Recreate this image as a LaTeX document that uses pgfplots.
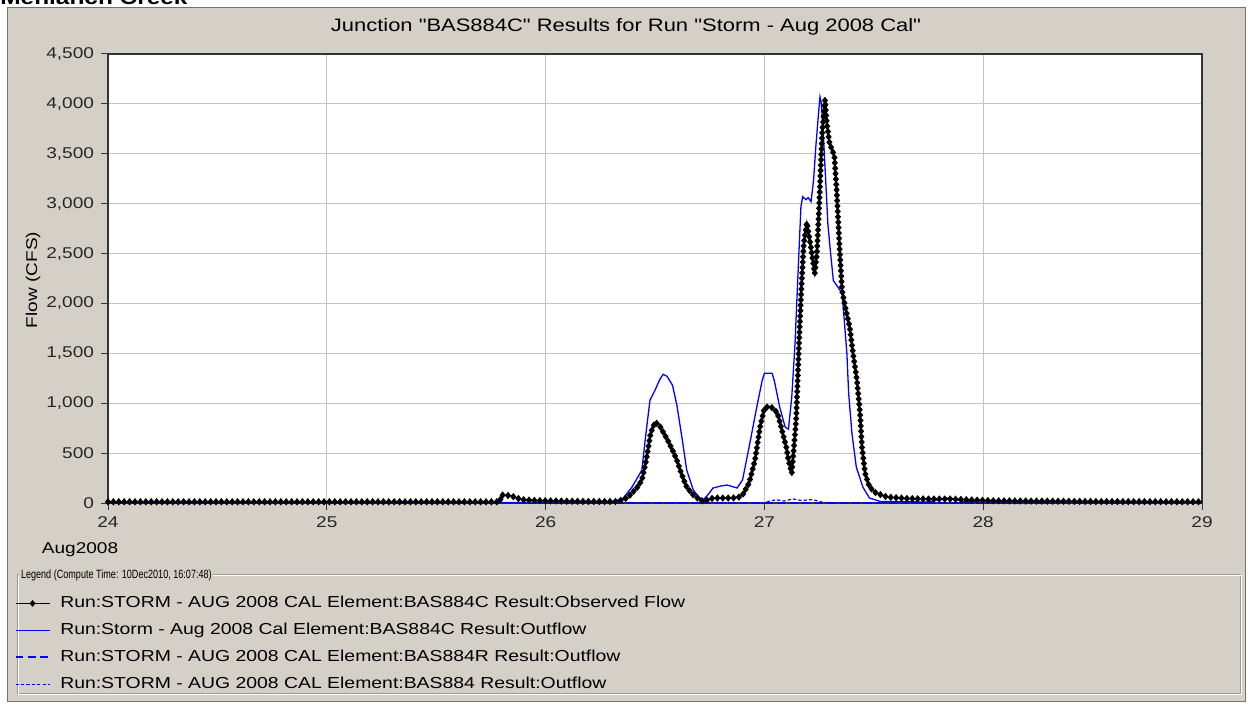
\documentclass[border=0pt]{standalone}
\usepackage{fontspec}
\setmainfont{Liberation Sans}[Ligatures=TeXOff, FakeStretch=1.22]
\usepackage{graphicx}
\usepackage{pgfplots}
\pgfplotsset{compat=1.18}
\usetikzlibrary{decorations.markings}
\definecolor{panel}{HTML}{D4D0C8}
\definecolor{gridc}{HTML}{C4C4C4}
\definecolor{hmsblue}{HTML}{0000FF}
\newcommand{\uifont}{\fontsize{7.8}{9.5}\selectfont}

\begin{document}
\begin{tikzpicture}
\useasboundingbox (0,0) rectangle (624pt,-355pt);
\fill[white] (0,0) rectangle (624pt,-355pt);
\fill[panel] (3.5pt,-3.5pt) rectangle (623pt,-351pt);
\draw[black!55, line width=0.6pt] (3.8pt,-3.8pt) rectangle (622.7pt,-350.7pt);
\begin{scope}
  \clip (0,0) rectangle (624pt,-355pt);
  \node[anchor=base west, inner sep=0pt, font=\fontsize{10}{12}\bfseries\selectfont] at (0pt,-2.5pt) {Mehlanch Creek};
\end{scope}

% legend group box
\draw[black!40, line width=0.5pt] (8.5pt,-287.5pt) rectangle (620pt,-347pt);
\draw[white, line width=0.5pt] (9pt,-288pt) rectangle (620.5pt,-347.5pt);
\node[anchor=west, fill=panel, inner xsep=0.8pt, inner ysep=1pt] at (9.5pt,-287.5pt)
  {\scalebox{0.62}[1]{\fontsize{6}{7}\selectfont Legend (Compute Time: 10Dec2010, 16:07:48)}};

\node[font=\fontsize{9}{11}\selectfont] at (313pt,-13.5pt) {Junction "BAS884C" Results for Run "Storm - Aug 2008 Cal"};
\node[font=\uifont, rotate=90] at (16.5pt,-140pt) {Flow (CFS)};
\node[font=\uifont] at (40pt,-275pt) {Aug2008};

\begin{axis}[
  at={(54pt,-251.5pt)}, anchor=south west,
  scale only axis, width=547pt, height=224.5pt,
  xmin=24, xmax=29, ymin=0, ymax=4500,
  xtick={24,25,26,27,28,29}, ytick={0,500,...,4500},
  xtick pos=bottom, ytick pos=left,
  scaled y ticks=false,
  grid=major, grid style={gridc, line width=0.6pt},
  axis line style={black!80, line width=0.6pt},
  tick align=outside, major tick length=3.5pt,
  tick style={black!80, line width=0.5pt},
  ticklabel style={font=\uifont, text=black!85},
  /pgf/number format/assume math mode=true,
  yticklabel style={/pgf/number format/1000 sep={,}},
  axis background/.style={fill=white},
  clip=false,
  legend style={at={(-0.0855,-0.206)}, anchor=north west, draw=none, fill=none,
    font=\fontsize{7.95}{9.5}\selectfont, inner sep=0pt, cells={anchor=west},
    nodes={inner sep=0pt, text height=6pt, text depth=1.5pt},
    /tikz/row sep=6pt, /tikz/column sep=5pt},
]
\addlegendimage{legend image code/.code={\draw[black, line width=0.6pt] (0pt,0pt)--(17pt,0pt);
    \fill[black] (8.5pt,1.4pt)--(9.65pt,0pt)--(8.5pt,-1.4pt)--(7.35pt,0pt)--cycle;}}
\addlegendentry{Run:STORM - AUG 2008 CAL Element:BAS884C Result:Observed Flow}
\addlegendimage{legend image code/.code={\draw[hmsblue, line width=0.65pt] (0pt,0pt)--(17pt,0pt);}}
\addlegendentry{Run:Storm - Aug 2008 Cal Element:BAS884C Result:Outflow}
\addlegendimage{legend image code/.code={\draw[draw=hmsblue, line width=0.7pt, dash pattern=on 3.8pt off 2.4pt] (0pt,0.1pt)--(17pt,0.1pt);}}
\addlegendentry{Run:STORM - AUG 2008 CAL Element:BAS884R Result:Outflow}
\addlegendimage{legend image code/.code={\draw[hmsblue, line width=0.6pt, dash pattern=on 1.6pt off 1.1pt] (0pt,0pt)--(17pt,0pt);}}
\addlegendentry{Run:STORM - AUG 2008 CAL Element:BAS884 Result:Outflow}

% BAS884 outflow
\addplot[forget plot, hmsblue, line width=0.6pt, dash pattern=on 1.6pt off 1.1pt] table {
x y
24.00 0
27.00 0
27.03 25
27.06 30
27.09 20
27.13 40
27.17 25
27.22 35
27.26 10
27.30 0
29.00 0
};
% BAS884R outflow
\addplot[forget plot, draw=hmsblue, line width=0.7pt, dash pattern=on 3.8pt off 2.4pt] table {
x y
24.00 0
29.00 0
};
% BAS884C outflow (computed)
\addplot[forget plot, hmsblue, line width=0.65pt] table {
x y
24.00 5
26.30 5
26.355 50
26.395 160
26.44 330
26.455 630
26.477 1030
26.50 1130
26.52 1230
26.537 1290
26.555 1270
26.58 1180
26.60 980
26.625 630
26.645 330
26.675 130
26.70 60
26.72 30
26.745 90
26.765 150
26.80 170
26.83 180
26.875 150
26.90 230
26.93 560
26.965 960
26.99 1230
27.00 1300
27.035 1300
27.045 1230
27.07 960
27.095 760
27.11 740
27.125 1060
27.14 1600
27.155 2370
27.167 2970
27.175 3070
27.19 3040
27.20 3060
27.213 3020
27.225 3240
27.235 3570
27.245 3840
27.254 4070
27.26 4010
27.268 3740
27.28 3240
27.29 2800
27.30 2560
27.315 2230
27.34 2150
27.355 2100
27.365 1830
27.377 1500
27.385 1100
27.40 700
27.42 360
27.45 160
27.48 50
27.53 15
27.75 10
27.79 30
27.83 50
27.87 40
27.91 15
28.00 10
29.00 12
};
% observed flow
\addplot[forget plot, black, line width=0.6pt, postaction={decorate},
  decoration={markings, mark=between positions 0 and 1 step 2.7pt with {%
    \pgftransformresetnontranslations
    \fill[black] (0pt,1.4pt)--(1.15pt,0pt)--(0pt,-1.4pt)--(-1.15pt,0pt)--cycle;}}]
  table {
x y
24.00 12
25.79 12
25.80 80
25.83 75
25.85 65
25.875 45
25.90 32
25.95 25
26.00 22
26.10 18
26.20 15
26.32 15
26.35 30
26.375 55
26.395 100
26.42 160
26.44 230
26.46 430
26.48 700
26.50 810
26.52 780
26.54 700
26.56 620
26.58 530
26.60 430
26.615 330
26.63 240
26.645 160
26.67 90
26.69 55
26.72 15
26.75 40
26.77 50
26.85 50
26.88 55
26.90 80
26.93 200
26.957 430
26.98 760
27.00 950
27.02 970
27.04 950
27.06 900
27.08 730
27.10 560
27.11 430
27.125 300
27.135 560
27.145 830
27.152 1230
27.16 1700
27.17 2200
27.18 2600
27.194 2810
27.21 2600
27.23 2300
27.24 2500
27.25 2960
27.258 3400
27.265 3740
27.277 4040
27.285 3810
27.298 3600
27.31 3540
27.32 3470
27.33 3140
27.345 2500
27.355 2130
27.37 1960
27.39 1760
27.405 1500
27.423 1230
27.437 900
27.446 560
27.46 300
27.48 160
27.51 100
27.56 60
27.65 45
27.75 40
27.85 40
27.95 30
28.05 22
28.50 15
29.00 12
};
\end{axis}
\end{tikzpicture}
\end{document}
